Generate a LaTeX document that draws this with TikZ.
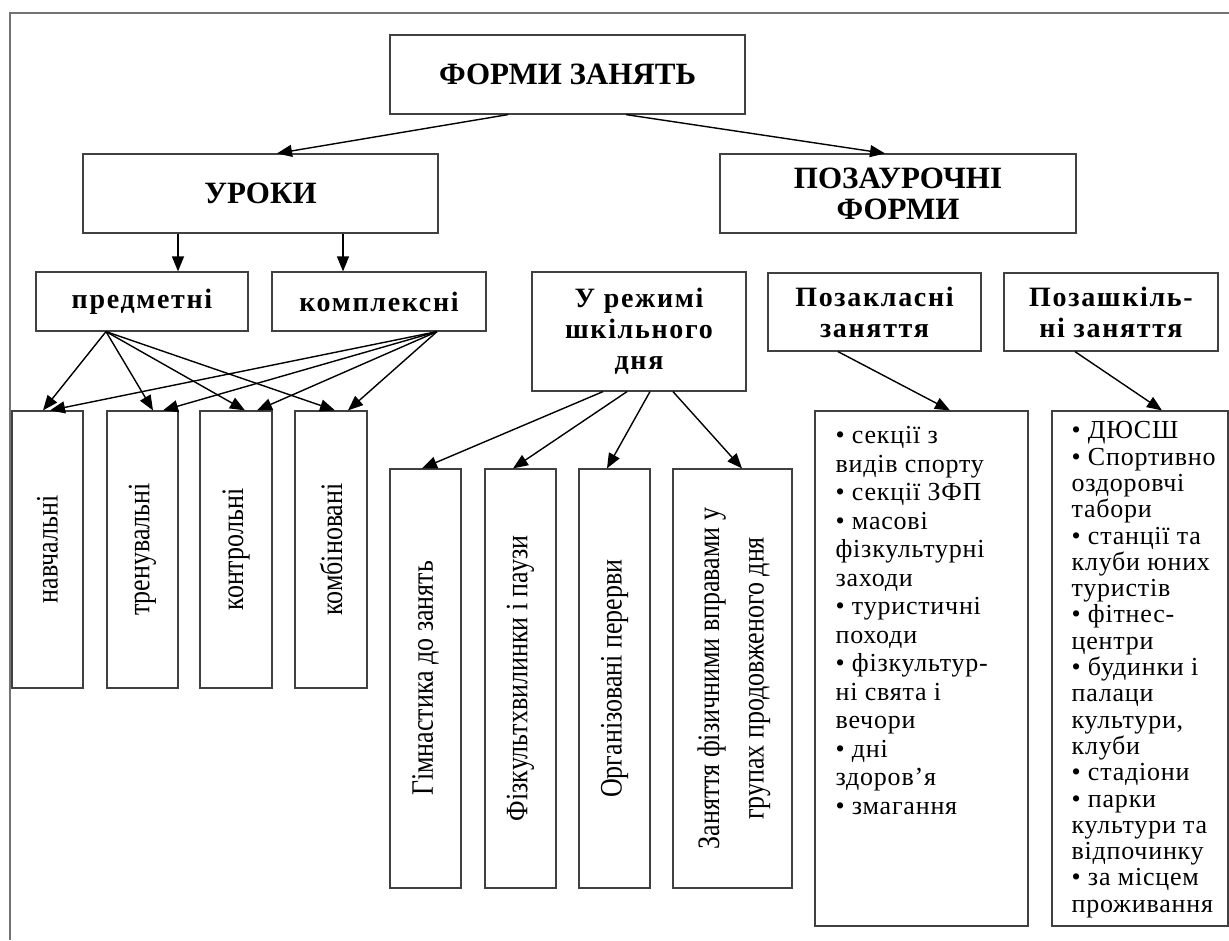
\documentclass[tikz,border=0pt]{standalone}
\usepackage{fontspec}
\usepackage{graphicx}
\setmainfont{Liberation Serif}
\newfontfamily\spacedfont[LetterSpace=6]{Liberation Serif}
\newfontfamily\listfont[LetterSpace=3]{Liberation Serif}
\usetikzlibrary{arrows.meta}
\newcommand{\uptext}[1]{\rotatebox{90}{\scalebox{1}[1.2]{#1}}}
\tikzset{
  box/.style={draw=black!75, line width=1.2pt, inner sep=0pt, align=center},
  capbox/.style={box, font=\fontsize{31}{31}\selectfont\bfseries},
  headbox/.style={box, font=\fontsize{28}{31}\selectfont\spacedfont\bfseries},
  vbox/.style={box, font=\fontsize{26}{37}\selectfont},
  listtext/.style={inner sep=0pt, align=left, anchor=north west},
  arr/.style={line width=1.4pt, -{Triangle[length=15pt,width=12pt]}}
}
\begin{document}
\begin{tikzpicture}[x=1pt,y=-1pt]
\useasboundingbox (0,0) rectangle (1229,940);
\draw[line width=1.6pt, black!55] (1229,13) -- (10,13) -- (10,940);

\node[capbox, minimum width=355, minimum height=79] (forms) at (567.5,74.5) {ФОРМИ ЗАНЯТЬ};
\node[capbox, minimum width=355, minimum height=79] (lessons) at (260.5,193.5) {УРОКИ};
\node[capbox, minimum width=356, minimum height=79] (extra) at (898,193.5) {ПОЗАУРОЧНІ\\ФОРМИ};

\node[headbox, minimum width=212, minimum height=59] (subj) at (142,301.5) {предметні};
\node[headbox, minimum width=214, minimum height=59] (compl) at (379,301.5) {комплексні};
\node[headbox, minimum width=214, minimum height=119] (regime) at (639,331.5) {У режимі\\шкільного\\дня};
\node[headbox, minimum width=213, minimum height=78] (outclass) at (874.5,312) {Позакласні\\заняття};
\node[headbox, minimum width=214, minimum height=78] (outschool) at (1111,312) {Позашкіль-\\ні заняття};

\node[vbox, minimum width=71, minimum height=277] (teach) at (47.5,549.5) {\uptext{навчальні}};
\node[vbox, minimum width=71, minimum height=277] (train) at (142.5,549.5) {\uptext{тренувальні}};
\node[vbox, minimum width=72, minimum height=277] (control) at (236,549.5) {\uptext{контрольні}};
\node[vbox, minimum width=72, minimum height=277] (combo) at (331,549.5) {\uptext{комбіновані}};

\node[vbox, minimum width=71, minimum height=419] (gym) at (425.5,678.5) {\uptext{Гімнастика до занять}};
\node[vbox, minimum width=71, minimum height=419] (pauses) at (520.5,678.5) {\uptext{Фізкультхвилинки і паузи}};
\node[vbox, minimum width=71, minimum height=419] (recess) at (614.5,678.5) {\uptext{Організовані перерви}};
\node[vbox, minimum width=119, minimum height=419] (afterday) at (732.5,678.5) {\uptext{\begin{tabular}{@{}c@{}}Заняття фізичними вправами у\\групах продовженого дня\end{tabular}}};

\node[box, minimum width=213, minimum height=515] (list1) at (921.5,668.5) {};
\node[box, minimum width=176, minimum height=515] (list2) at (1140,668.5) {};
\node[listtext, font=\fontsize{26}{28.5}\selectfont\listfont] (list1txt) at ([xshift=21,yshift=-16]list1.north west)
  {•~секції з\\видів спорту\\•~секції ЗФП\\•~масові\\фізкультурні\\заходи\\•~туристичні\\походи\\•~фізкультур-\\ні свята і\\вечори\\•~дні\\здоров’я\\•~змагання};
\node[listtext, font=\fontsize{26}{26.3}\selectfont\listfont] (list2txt) at ([xshift=20,yshift=-11]list2.north west)
  {•~ДЮСШ\\•~Спортивно\\оздоровчі\\табори\\•~станції та\\клуби юних\\туристів\\•~фітнес-\\центри\\•~будинки і\\палаци\\культури,\\клуби\\•~стадіони\\•~парки\\культури та\\відпочинку\\•~за місцем\\проживання};

\draw[arr] ([xshift=-59.5]forms.south) -- ([xshift=16.5]lessons.north);
\draw[arr] ([xshift=58.5]forms.south) -- ([xshift=-13]extra.north);
\draw[arr] ([xshift=-82.5]lessons.south) -- ([xshift=36]subj.north);
\draw[arr] ([xshift=82.5]lessons.south) -- ([xshift=-36]compl.north);

\draw[arr] ([xshift=-36]subj.south) -- ([xshift=-4.5]teach.north);
\draw[arr] ([xshift=-36]subj.south) -- ([xshift=10.5]train.north);
\draw[arr] ([xshift=-36]subj.south) -- ([xshift=9]control.north);
\draw[arr] ([xshift=-36]subj.south) -- ([xshift=4]combo.north);
\draw[arr] ([xshift=58]compl.south) -- ([xshift=2.5]teach.north);
\draw[arr] ([xshift=58]compl.south) -- ([xshift=20.5]train.north);
\draw[arr] ([xshift=58]compl.south) -- ([xshift=21]control.north);
\draw[arr] ([xshift=58]compl.south) -- ([xshift=17]combo.north);

\draw[arr] ([xshift=-36]regime.south) -- ([xshift=-3.5]gym.north);
\draw[arr] ([xshift=-12]regime.south) -- ([xshift=-7.5]pauses.north);
\draw[arr] ([xshift=11]regime.south) -- ([xshift=-7.5]recess.north);
\draw[arr] ([xshift=34]regime.south) -- ([xshift=9.5]afterday.north);

\draw[arr] ([xshift=-36.5]outclass.south) -- ([xshift=28.5]list1.north);
\draw[arr] ([xshift=-36]outschool.south) -- ([xshift=22]list2.north);
\end{tikzpicture}
\end{document}
